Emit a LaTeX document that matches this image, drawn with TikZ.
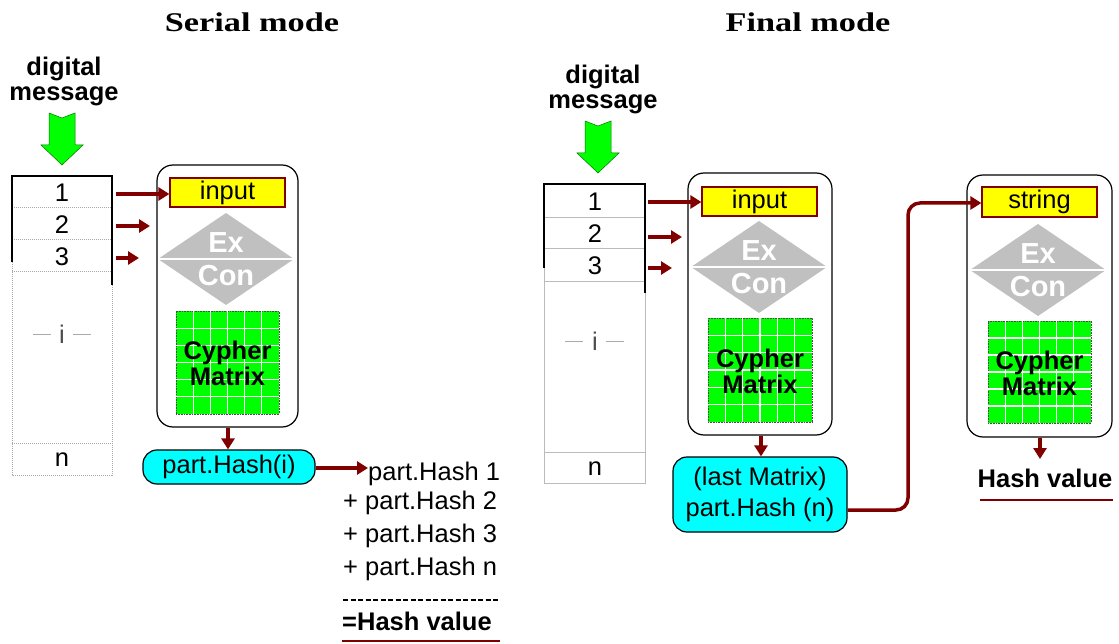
\documentclass[tikz,border=0pt]{standalone}
\usepackage{fontspec}
\usepackage{graphicx}
\setmainfont{Liberation Sans}
\newfontfamily\titlefont{Liberation Serif}
\usetikzlibrary{arrows.meta,fit}
\definecolor{dred}{RGB}{128,0,0}
\definecolor{mygreen}{RGB}{0,255,0}
\definecolor{mycyan}{RGB}{0,255,255}
\definecolor{myyellow}{RGB}{255,255,0}
\definecolor{mygray}{RGB}{192,192,192}
\definecolor{linegray}{RGB}{170,170,170}
\newcommand\grnarrow[3]{% name, center x, top y
  \fill[mygreen, draw=green!45!black, line width=0.5pt]
    (#2-13,#3) -- (#2,#3+5) -- (#2+13,#3) -- (#2+13,#3+32) -- (#2+21,#3+32)
    -- (#2,#3+52) -- (#2-21,#3+32) -- (#2-13,#3+32) -- cycle;
  \coordinate (#1) at (#2,#3+52);}
\newcommand\diam[3]{% name, cx, cy
  \fill[mygray] (#2-68,#3) -- (#2,#3-46) -- (#2+68,#3) -- (#2,#3+46) -- cycle;
  \draw[white, line width=1.5pt] (#2-68,#3) -- (#2+68,#3);
  \coordinate (#1) at (#2,#3);
  \node[excon] at (#2,#3-16) {Ex};
  \node[excon] at (#2,#3+17) {Con};}
\newcommand\cmat[5]{% name, x1,y1,x2,y2
  \node[matbox, fit={(#2,#3) (#4,#5)}] (#1) {};
  \foreach \i in {1,...,5}{
    \draw[white, line width=1.3pt] ({#2+\i*(#4-#2)/6},#3) -- ({#2+\i*(#4-#2)/6},#5);
    \draw[white, line width=1.3pt] (#2,{#3+\i*(#5-#3)/6}) -- (#4,{#3+\i*(#5-#3)/6});}
  \node[cyph] at ({(#2+#4)/2},{(#3+#5)/2+1}) {Cypher\\[-2pt]Matrix};}
\begin{document}
\begin{tikzpicture}[x=1pt,y=-1pt,
  redarrow/.style={draw=dred, line width=3.5pt, -{Triangle[length=11pt,width=13pt]}},
  enginebox/.style={draw=black, line width=1.2pt, rounded corners=16pt, inner sep=0},
  inbox/.style={draw=dred, fill=myyellow, line width=1.2pt, inner sep=0},
  matbox/.style={fill=mygreen, draw=black!70, densely dotted, line width=0.6pt, inner sep=0},
  hashbox/.style={draw=black, fill=mycyan, line width=1.2pt, rounded corners=14pt, inner sep=0},
  txt/.style={font=\fontsize{25.5}{30}\selectfont, inner sep=0},
  boldtxt/.style={font=\bfseries\fontsize{25.5}{29}\selectfont, inner sep=0},
  excon/.style={font=\bfseries\fontsize{29}{30}\selectfont, text=white, inner sep=0},
  cyph/.style={font=\bfseries\fontsize{25.5}{28}\selectfont, align=center, inner sep=0},
  titletxt/.style={font=\titlefont\bfseries\fontsize{27}{30}\selectfont, inner sep=0},
  tabline/.style={draw=linegray, densely dotted, line width=1pt},
  tabline2/.style={draw=linegray!80, line width=1pt},
  blk/.style={draw=black, line width=1.5pt},
  igray/.style={draw=linegray, line width=1pt}
]
\useasboundingbox (0,0) rectangle (1119,644);

% ================= Serial mode =================
\node[titletxt] (t1) at (252,22) {\scalebox{1.27}[1]{Serial mode}};
\node[boldtxt] (dm1a) at (64,69) {digital};
\node[boldtxt] (dm1b) at (64,96) {message};
\grnarrow{g1}{62}{113}

% table
\draw[tabline] (12,176) rectangle (112,475);
\foreach \yy in {208,240,272,443} \draw[tabline] (12,\yy) -- (112,\yy);
\draw[blk] (12,262) -- (12,176) -- (112,176) -- (112,285);
\node[txt] (l1) at (62,193) {1};
\node[txt] (l2) at (62,225) {2};
\node[txt] (l3) at (62,257) {3};
\node[txt, text=black!70] (li) at (62,334) {i};
\draw[igray] (33,334) -- (51,334) (73,334) -- (91,334);
\node[txt] (ln) at (62,460) {n};

% engine
\node[enginebox, fit={(157,165) (298,427)}] (e1) {};
\node[inbox, fit={(170,178) (285,207)}, label={[txt]center:input}] (in1) {};
\diam{d1}{226}{259}
\cmat{m1}{176}{311}{279}{414}

\coordinate (a1s) at (116,194);
\coordinate (a2s) at (116,226);
\coordinate (a2e) at (150,226);
\coordinate (a3s) at (116,258);
\coordinate (a3e) at (139,258);
\draw[redarrow] (a1s) -- (in1.west|-a1s);
\draw[redarrow] (a2s) -- (a2e);
\draw[redarrow] (a3s) -- (a3e);

\node[hashbox, fit={(143,450) (315,484)}, label={[txt]center:part.Hash(i)}] (h1) {};
\draw[redarrow] (e1.south-|228,0) -- (h1.north-|228,0);

\node[txt, anchor=base west] (p1) at (368,480) {part.Hash 1};
\node[txt, anchor=base west] (p2) at (343,509) {+ part.Hash 2};
\node[txt, anchor=base west] (p3) at (343,542) {+ part.Hash 3};
\node[txt, anchor=base west] (p4) at (343,575) {+ part.Hash n};
\draw[redarrow] (h1.east|-0,468) -- (p1.west|-0,468);
\coordinate (ds) at (343,600);
\coordinate (de) at (500,600);
\draw[black, line width=1.2pt, dash pattern=on 5pt off 2.5pt] (ds) -- (de);
\node[boldtxt, anchor=base west] (hv1) at (342,630) {=Hash value};
\coordinate (u1s) at (342,641);
\coordinate (u1e) at (500,641);
\draw[dred, line width=2.5pt] (u1s) -- (u1e);

% ================= Final mode =================
\node[titletxt] (t2) at (808,22) {\scalebox{1.27}[1]{Final mode}};
\node[boldtxt] (dm2a) at (603,77) {digital};
\node[boldtxt] (dm2b) at (603,104) {message};
\grnarrow{g2}{598}{121}

\draw[tabline2] (544,184) rectangle (645,483);
\foreach \yy in {218,249,282,452} \draw[tabline2] (544,\yy) -- (645,\yy);
\draw[blk] (544,268) -- (544,184) -- (645,184) -- (645,293);
\node[txt] (r1) at (595,202) {1};
\node[txt] (r2) at (595,234) {2};
\node[txt] (r3) at (595,266) {3};
\node[txt, text=black!70] (ri) at (595,341) {i};
\draw[igray] (565,341) -- (583,341) (606,341) -- (624,341);
\node[txt] (rn) at (595,469) {n};

\node[enginebox, fit={(688,173) (832,435)}] (e2) {};
\node[inbox, fit={(702,187) (817,216)}, label={[txt]center:input}] (in2) {};
\diam{d2}{759}{267}
\cmat{m2}{708}{318}{812}{422}

\coordinate (b1s) at (648,202);
\coordinate (b2s) at (648,237);
\coordinate (b2e) at (682,237);
\coordinate (b3s) at (648,268);
\coordinate (b3e) at (672,268);
\draw[redarrow] (b1s) -- (in2.west|-b1s);
\draw[redarrow] (b2s) -- (b2e);
\draw[redarrow] (b3s) -- (b3e);

\node[hashbox, fit={(673,457) (847,532)}] (h2) {};
\node[txt, align=center] (h2t) at (h2.center) {(last Matrix)\\[1pt]part.Hash (n)};
\draw[redarrow] (e2.south-|761,0) -- (h2.north-|761,0);

% ================= third engine =================
\node[enginebox, fit={(967,175) (1112,437)}] (e3) {};
\node[inbox, fit={(982,187) (1097,217)}, label={[txt]center:string}] (in3) {};
\diam{d3}{1038}{270}
\cmat{m3}{988}{321}{1091}{423}

\node[boldtxt] (hv2) at (1045,478) {Hash value};
\draw[redarrow] (e3.south-|1040,0) -- (1040,459);
\coordinate (u2s) at (980,500);
\coordinate (u2e) at (1113,500);
\draw[dred, line width=2.5pt] (u2s) -- (u2e);

\draw[redarrow, rounded corners=12pt] (h2.east|-0,510) -- (908,510) -- (908,203) -- (in3.west|-0,203);
\end{tikzpicture}
\end{document}
